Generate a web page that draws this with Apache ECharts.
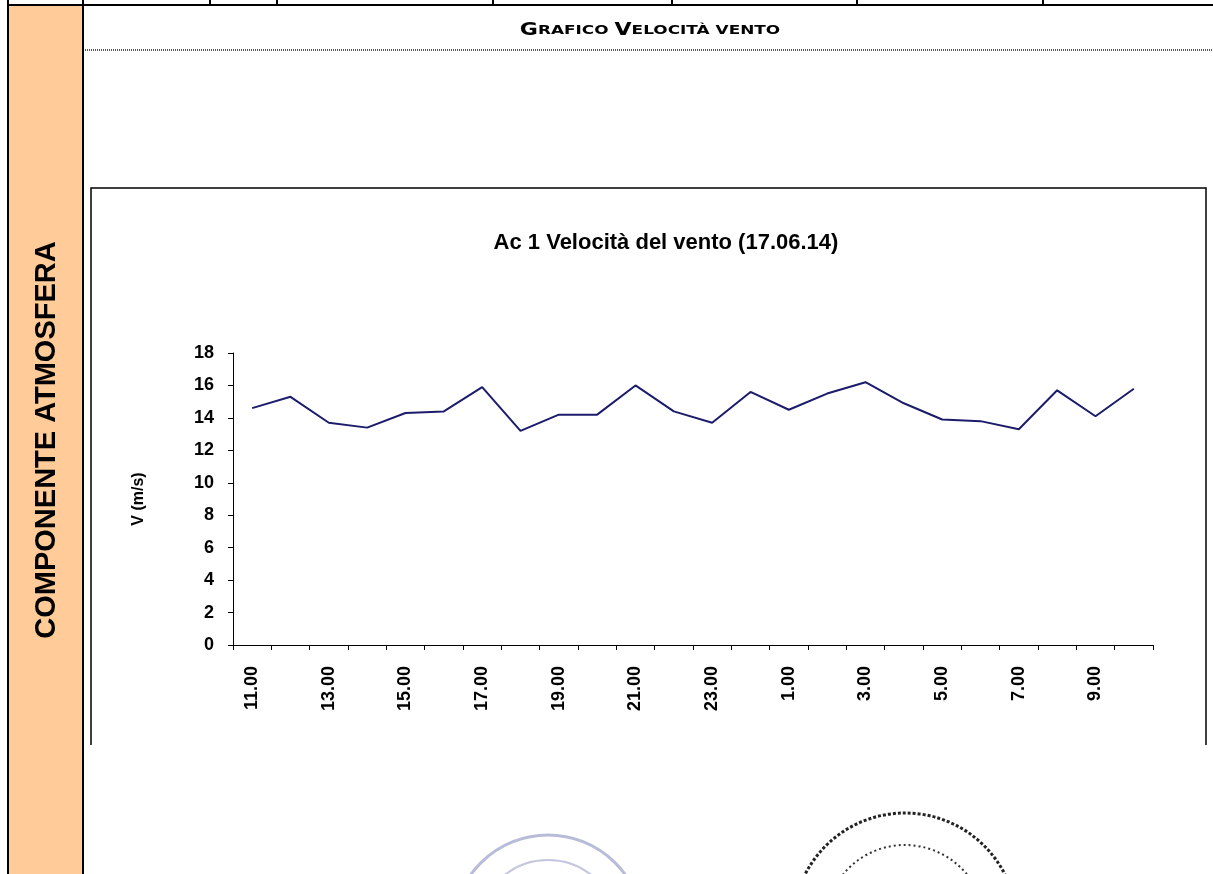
<!DOCTYPE html>
<html>
<head>
<meta charset="utf-8">
<title>Grafico Velocità vento</title>
<script src="https://cdn.jsdelivr.net/npm/echarts@6/dist/echarts.min.js"></script>
<style>
  html, body { margin: 0; padding: 0; background: #fff; }
  #main { width: 1213px; height: 874px; }
</style>
</head>
<body>
<div id="main"></div>
<script>
  // ore di rilevamento (17.06.14 -> 18.06.14)
  var hours = ['11.00', '12.00', '13.00', '14.00', '15.00', '16.00', '17.00', '18.00',
    '19.00', '20.00', '21.00', '22.00', '23.00', '0.00', '1.00', '2.00', '3.00', '4.00',
    '5.00', '6.00', '7.00', '8.00', '9.00', '10.00']
  // velocità del vento in m/s
  var windSpeed = [14.6, 15.3, 13.7, 13.4, 14.3, 14.4, 15.9, 13.2, 14.2, 14.2, 16.0, 14.4,
    13.7, 15.6, 14.5, 15.5, 16.2, 14.9, 13.9, 13.8, 13.3, 15.7, 14.1, 15.8]
  var yTicks = [0, 2, 4, 6, 8, 10, 12, 14, 16, 18]

  var chart = echarts.init(document.getElementById('main'))

  var fontArial = 'Liberation Sans, Arial, sans-serif'
  var topCells = [8, 83, 210, 277, 493, 672, 857, 1043]

  var graphics = [
    // colonna laterale arancione
    {
      type: 'rect',
      shape: { x: 8, y: 5, width: 75, height: 880 },
      style: { fill: '#ffcc99', stroke: '#000', lineWidth: 2 },
      z: 1
    },
    {
      type: 'text',
      x: 47, y: 440,
      rotation: Math.PI / 2,
      style: {
        text: 'COMPONENTE ATMOSFERA',
        font: 'bold 29px ' + fontArial,
        fill: '#000',
        align: 'center',
        verticalAlign: 'middle'
      },
      z: 2
    },
    // riga superiore della tabella
    {
      type: 'line',
      shape: { x1: 8, y1: 5, x2: 1213, y2: 5 },
      style: { stroke: '#000', lineWidth: 2 }
    },
    // linea tratteggiata sotto l'intestazione
    {
      type: 'line',
      shape: { x1: 85, y1: 50, x2: 1213, y2: 50 },
      style: { stroke: '#555', lineWidth: 2, lineDash: [1, 1] }
    },
    {
      type: 'text',
      x: 650, y: 31,
      scaleX: 1.3,
      style: {
        text: '{b|G}{s|RAFICO }{b|V}{s|ELOCITÀ VENTO}',
        rich: {
          b: { font: 'bold 17px DejaVu Sans, Verdana, sans-serif', fill: '#000' },
          s: { font: 'bold 13px DejaVu Sans, Verdana, sans-serif', fill: '#000' }
        },
        align: 'center',
        verticalAlign: 'middle'
      }
    },
    // cornice del grafico
    {
      type: 'polyline',
      shape: { points: [[91, 745], [91, 188], [1206, 188], [1206, 745]] },
      style: { stroke: '#000', lineWidth: 1.5, fill: null }
    },
    {
      type: 'text',
      x: 666, y: 243,
      style: {
        text: 'Ac 1 Velocità del vento (17.06.14)',
        font: 'bold 22px ' + fontArial,
        fill: '#000',
        align: 'center',
        verticalAlign: 'middle'
      }
    },
    // timbri in fondo alla pagina
    {
      type: 'circle',
      shape: { cx: 548, cy: 930, r: 95 },
      style: { stroke: '#b8bcd8', lineWidth: 3, fill: null }
    },
    {
      type: 'circle',
      shape: { cx: 548, cy: 930, r: 70 },
      style: { stroke: '#c4c7de', lineWidth: 2, fill: null }
    },
    {
      type: 'circle',
      shape: { cx: 905, cy: 925, r: 112 },
      style: { stroke: '#222', lineWidth: 3, fill: null, lineDash: [3, 2] }
    },
    {
      type: 'circle',
      shape: { cx: 905, cy: 925, r: 80 },
      style: { stroke: '#333', lineWidth: 2, fill: null, lineDash: [2, 3] }
    }
  ]
  topCells.forEach(function (x) {
    graphics.push({
      type: 'line',
      shape: { x1: x, y1: 0, x2: x, y2: 5 },
      style: { stroke: '#000', lineWidth: 2 }
    })
  })

  chart.setOption({
    backgroundColor: '#fff',
    animation: false,
    graphic: graphics,
    grid: {
      left: 233,
      right: 60,
      top: 353,
      bottom: 229,
      containLabel: false
    },
    xAxis: {
      type: 'category',
      data: hours,
      boundaryGap: true,
      axisLine: { lineStyle: { color: '#000', width: 1 } },
      axisTick: { show: true, interval: 0, length: 5, lineStyle: { color: '#000' } },
      axisLabel: {
        interval: 1,
        rotate: 90,
        margin: 21,
        color: '#000',
        fontFamily: fontArial,
        fontWeight: 'bold',
        fontSize: 18
      },
      splitLine: { show: false }
    },
    yAxis: {
      type: 'value',
      min: yTicks[0],
      max: yTicks[yTicks.length - 1],
      interval: 2,
      name: 'V (m/s)',
      nameLocation: 'middle',
      nameRotate: 90,
      nameGap: 86,
      nameTextStyle: {
        color: '#000',
        fontFamily: fontArial,
        fontWeight: 'bold',
        fontSize: 16
      },
      axisLine: { show: true, lineStyle: { color: '#000', width: 1 } },
      axisTick: { show: true, length: 5, lineStyle: { color: '#000' } },
      axisLabel: {
        margin: 19,
        color: '#000',
        fontFamily: fontArial,
        fontWeight: 'bold',
        fontSize: 18
      },
      splitLine: { show: false }
    },
    series: [{
      name: 'Velocità del vento',
      type: 'line',
      data: windSpeed,
      symbol: 'none',
      smooth: false,
      lineStyle: { color: '#1c1c6b', width: 2 }
    }]
  })
</script>
</body>
</html>
